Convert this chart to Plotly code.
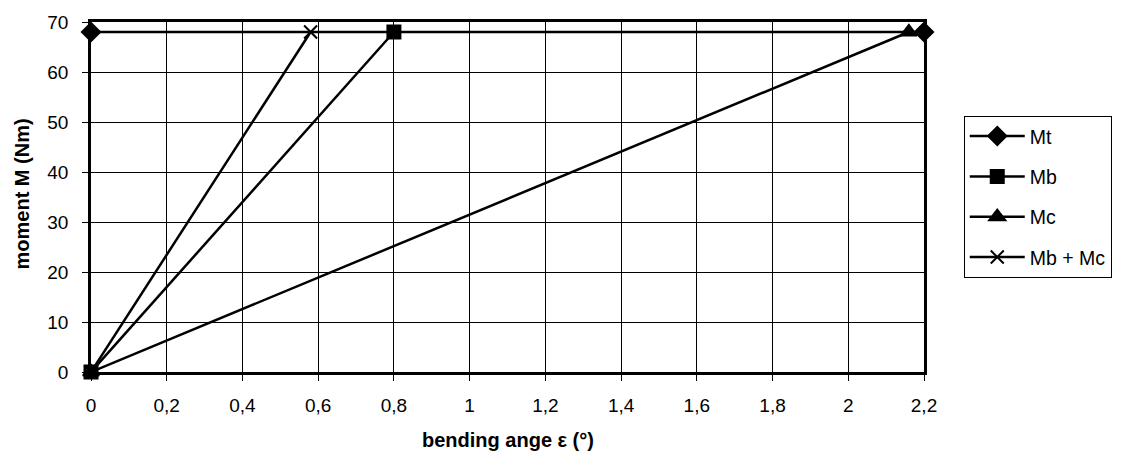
import plotly.graph_objects as go

# Data
mt_x = [0, 2.2]
mt_y = [68, 68]
mb_x = [0, 0.8]
mb_y = [0, 68]
mc_x = [0, 2.16]
mc_y = [0, 68]
mbmc_x = [0, 0.58]
mbmc_y = [0, 68]

x_ticks = [0, 0.2, 0.4, 0.6, 0.8, 1, 1.2, 1.4, 1.6, 1.8, 2, 2.2]
x_labels = ["0", "0,2", "0,4", "0,6", "0,8", "1", "1,2", "1,4", "1,6", "1,8", "2", "2,2"]
y_ticks = [0, 10, 20, 30, 40, 50, 60, 70]

FONT = "Liberation Sans, Arial, sans-serif"
W, H = 1124, 461
L, R, T, B = 91, 195, 14, 89
PW, PH = W - L - R, H - T - B

fig = go.Figure()
series = [
    ("Mt", mt_x, mt_y, "diamond", 14),
    ("Mb", mb_x, mb_y, "square", 13),
    ("Mc", mc_x, mc_y, "triangle-up", 14),
    ("Mb + Mc", mbmc_x, mbmc_y, "x-thin", 13),
]
for i, (name, xs, ys, sym, sz) in enumerate(series):
    fig.add_trace(go.Scatter(
        x=xs, y=ys, name=name, mode="lines+markers",
        line=dict(color="black", width=2.5),
        marker=dict(symbol=sym, size=sz, color="black",
                    line=dict(color="black", width=2)),
        cliponaxis=False, legendgroup=f"g{i}",
    ))

fig.update_layout(
    width=W, height=H,
    margin=dict(l=L, r=R, t=T, b=B),
    paper_bgcolor="white", plot_bgcolor="white",
    font=dict(family=FONT, size=19, color="black"),
    showlegend=True,
    legend=dict(
        x=(969 - L) / PW, y=(T + PH - 110) / PH, xanchor="left", yanchor="top",
        bordercolor="black", borderwidth=1, bgcolor="white",
        font=dict(size=19.5, family=FONT),
        tracegroupgap=12, traceorder="grouped", itemwidth=55,
    ),
    xaxis=dict(
        range=[0, 2.2], tickmode="array", tickvals=x_ticks, ticktext=x_labels,
        showgrid=True, gridcolor="black", gridwidth=1,
        showline=True, linecolor="black", linewidth=2.5, mirror=True,
        ticks="outside", ticklen=6, tickcolor="black",
        ticklabelstandoff=8,
        zeroline=False,
    ),
    yaxis=dict(
        range=[0, 70], tickmode="array", tickvals=y_ticks,
        showgrid=True, gridcolor="black", gridwidth=1,
        showline=True, linecolor="black", linewidth=2.5, mirror=True,
        ticks="outside", ticklen=6, tickcolor="black",
        ticklabelstandoff=10,
        zeroline=False,
    ),
    annotations=[
        dict(text="<b>bending ange ε (°)</b>", xref="paper", yref="paper",
             x=0.5, y=(T + PH - 442) / PH, xanchor="center", yanchor="middle",
             showarrow=False, font=dict(size=20, family=FONT)),
        dict(text="<b>moment M (Nm)</b>", xref="paper", yref="paper",
             x=(22 - L) / PW, y=(T + PH - 190) / PH, xanchor="center", yanchor="middle",
             textangle=-90, showarrow=False, font=dict(size=20, family=FONT)),
    ],
)

fig.write_html(
    "out.html",
    config={"displayModeBar": False},
    post_script="document.body.style.margin='0';document.body.style.overflow='hidden';",
)
